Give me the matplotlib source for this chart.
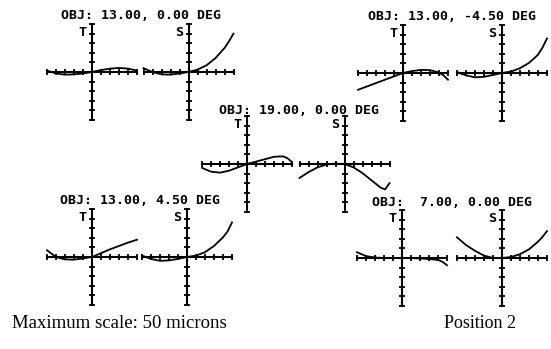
import numpy as np
from matplotlib import pyplot as plt

# ray fan data, pupil coordinate vs ray error in microns (max scale 50)
pupil = [-1.0, -0.8, -0.6, -0.4, -0.2, 0.0, 0.2, 0.4, 0.6, 0.8, 0.9, 1.0]

titles = ["OBJ: 13.00, 0.00 DEG",
          "OBJ: 13.00, -4.50 DEG",
          "OBJ: 19.00, 0.00 DEG",
          "OBJ: 13.00, 4.50 DEG",
          "OBJ:  7.00, 0.00 DEG"]

tan_13_0 = [1.5, -1.5, -2.75, -2.5, -1.5, 0, 2, 3.5, 4.25, 3.5, 2.5, 1.5]
sag_13_0 = [4, 0, -2.5, -2.75, -1.5, 0, 2.5, 7, 14.5, 25, 32, 40]
tan_13_m45 = [-17.5, -14, -10.5, -7, -3.5, 0, 2, 3.25, 3, 0.5, -2.5, -7]
sag_13_m45 = [1, -2.5, -4.5, -4, -2, 0, 1.5, 5, 10.5, 19, 26.5, 36]
tan_19_0 = [-4, -8, -9, -7, -3.5, 0, 2.5, 5, 7.5, 8, 6, 2]
sag_19_0 = [-14.5, -8.5, -3.5, -0.5, 0.5, 0, -3.5, -9.5, -17, -24.5, -26.5, -20]
tan_13_p45 = [7, 0, -2.5, -2.75, -1.5, 0, 4, 8, 11.5, 15, 16.5, 18]
sag_13_p45 = [1.5, -2, -4, -3.5, -2, 0, 1.5, 5, 11.5, 20.5, 26.5, 36]
tan_7_0 = [6, 2, 0.5, 0, 0, 0, 0, -0.5, -1, -2, -4, -7.5]
sag_7_0 = [21.5, 13.5, 7.5, 2.5, 0, 0, 1, 4, 9, 17, 22, 28]

tan = [tan_13_0, tan_13_m45, tan_19_0, tan_13_p45, tan_7_0]
sag = [sag_13_0, sag_13_m45, sag_19_0, sag_13_p45, sag_7_0]

# layout in pixels: T axis centre, S axis centre, title centre
W, H = 551.0, 349.0
HW, HH = 45.0, 48.0
t_centres = [(92, 72), (403, 73), (247, 164), (92, 257), (402, 258)]
s_centres = [(188.5, 72), (502, 73), (344.5, 164), (187, 257), (502, 258)]
title_pos = [(141, 15.5), (452.5, 17), (299, 110), (140, 201), (452, 203)]

mono = dict(family='DejaVu Sans Mono', weight='bold', size=9.5)

fig = plt.figure(figsize=(W / 100, H / 100), dpi=100)


def fan(cx, cy, label, y):
    ax = fig.add_axes([(cx - HW) / W, 1 - (cy + HH) / H, 2 * HW / W, 2 * HH / H])
    ax.patch.set_visible(False)
    ax.set_xlim(-1, 1)
    ax.set_ylim(-50, 50)
    ax.spines['top'].set_visible(False)
    ax.spines['right'].set_visible(False)
    ax.spines['left'].set_position(('data', 0))
    ax.spines['bottom'].set_position(('data', 0))
    for s in ['left', 'bottom']:
        ax.spines[s].set_linewidth(1.5)
    ax.set_xticks(np.linspace(-1, 1, 11))
    ax.set_yticks(np.linspace(-50, 50, 11))
    ax.tick_params(direction='inout', length=4.5, width=1.3,
                   labelbottom=False, labelleft=False)
    ax.plot(pupil, y, color='black', lw=1.3, clip_on=False)
    ax.text(-0.12, 41, label, ha='right', va='center', fontdict=mono)
    return ax


for i in range(5):
    fan(t_centres[i][0], t_centres[i][1], 'T', tan[i])
    fan(s_centres[i][0], s_centres[i][1], 'S', sag[i])
    fig.text(title_pos[i][0] / W, 1 - title_pos[i][1] / H, titles[i],
             ha='center', va='center', fontdict=mono)

fig.text(12 / W, 1 - 323 / H, "Maximum scale: 50 microns",
         family='Liberation Serif', size=13.5, ha='left', va='center')
fig.text(516 / W, 1 - 323 / H, "Position 2",
         family='Liberation Serif', size=13, ha='right', va='center')

plt.savefig('out.png', dpi=100)
